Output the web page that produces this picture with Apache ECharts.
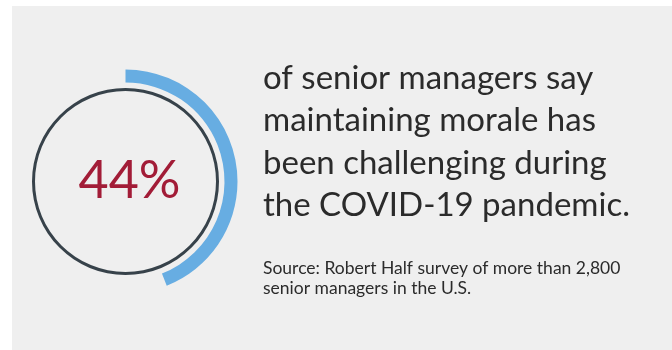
<!DOCTYPE html>
<html><head><meta charset="utf-8">
<style>html,body{margin:0;padding:0;background:#fff;}#c{width:672px;height:350px;}</style>
<script src="https://cdn.jsdelivr.net/npm/echarts@6/dist/echarts.min.js"></script>
</head><body><div id="c"></div>
<script>
const shareValue = 44;           // percent of senior managers
const restValue = 100 - shareValue;
const headlineLines = ['of senior managers say', 'maintaining morale has', 'been challenging during', 'the COVID-19 pandemic.'];
const sourceLines = ['Source: Robert Half survey of more than 2,800', 'senior managers in the U.S.'];

const chart = echarts.init(document.getElementById('c'), null, {renderer: 'canvas'});
const FONT = 'Lato';
chart.setOption({
  animation: false,
  backgroundColor: '#ffffff',
  graphic: [
    {type: 'rect', z: -10, shape: {x: 12, y: 6, width: 660, height: 344}, style: {fill: '#efefef'}},
    {type: 'text', left: 263, top: 57, style: {text: headlineLines.join('\n'), font: '33px ' + FONT, fill: '#2b2b2b', lineHeight: 42.4}},
    {type: 'text', left: 263, top: 258, style: {text: sourceLines.join('\n'), font: '17.5px ' + FONT, fill: '#2b2b2b', lineHeight: 20}}
  ],
  series: [
    {
      type: 'pie', silent: true, center: [125.5, 181.5], radius: [90.5, 93.5],
      label: {show: false}, labelLine: {show: false}, emphasis: {disabled: true},
      itemStyle: {color: '#37424a'},
      data: [{value: 100, name: 'ring'}]
    },
    {
      type: 'pie', silent: true, center: [125.5, 181.5], radius: [99, 112],
      startAngle: 90, clockwise: true,
      label: {show: false}, labelLine: {show: false}, emphasis: {disabled: true},
      data: [
        {value: shareValue, name: 'share', itemStyle: {color: '#67ade2'},
         label: {show: true, position: 'center', formatter: '{c}%', fontSize: 52, fontFamily: FONT, color: '#a21c37', fontWeight: 'normal', padding: [0, 0, 0, 8]}},
        {value: restValue, name: 'rest', itemStyle: {color: 'rgba(0,0,0,0)'}}
      ]
    }
  ]
});
</script></body></html>
